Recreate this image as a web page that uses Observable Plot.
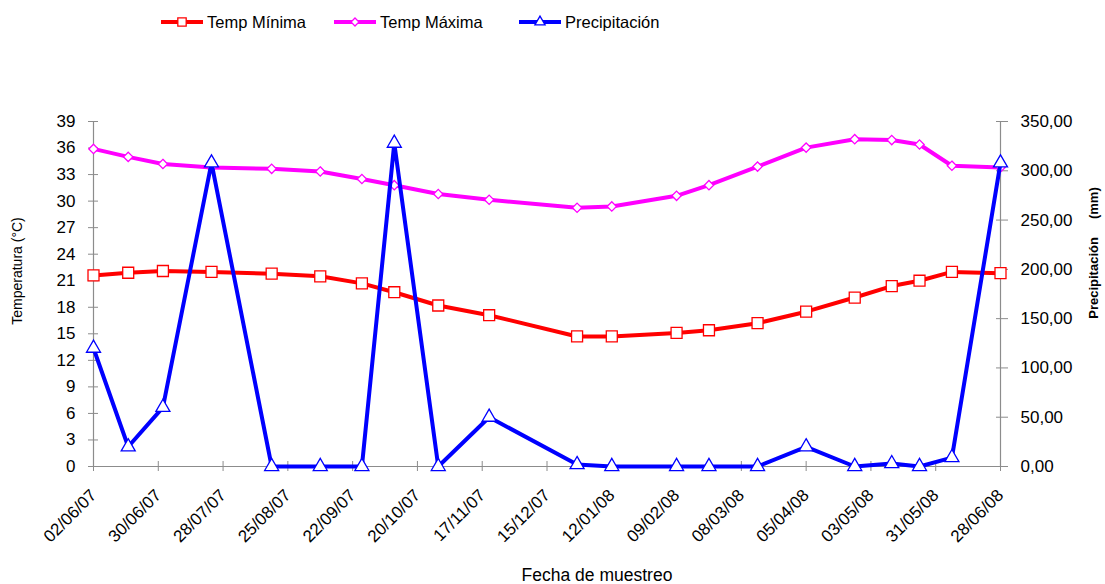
<!DOCTYPE html>
<html>
<head>
<meta charset="utf-8">
<script src="https://cdn.jsdelivr.net/npm/d3@7"></script>
<script src="https://cdn.jsdelivr.net/npm/@observablehq/plot@0.6"></script>
<style>
  body { margin: 0; background: white; font-family: "Liberation Sans", Arial, sans-serif; }
  #legend { position: relative; width: 1105px; height: 45px; }
  .item { position: absolute; top: 12px; display: flex; align-items: center; font-size: 16.5px; color: black; }
  .item svg { margin-right: 2px; }
</style>
</head>
<body>
<div id="legend"></div>
<div id="chart"></div>
<script>
// Sampling dates (dd/mm/yy)
const fechas = ["02/06/07","17/06/07","02/07/07","23/07/07","18/08/07","08/09/07","26/09/07","10/10/07","29/10/07","20/11/07","28/12/07","12/01/08","09/02/08","23/02/08","15/03/08","05/04/08","26/04/08","12/05/08","24/05/08","07/06/08","28/06/08"];
// Minimum temperature (°C)
const tempMinima = [21.6,21.9,22.1,22.0,21.8,21.5,20.7,19.7,18.2,17.1,14.7,14.7,15.1,15.4,16.2,17.5,19.1,20.4,21.0,22.0,21.85];
// Maximum temperature (°C)
const tempMaxima = [35.9,35.0,34.2,33.8,33.65,33.35,32.5,31.8,30.8,30.15,29.25,29.4,30.6,31.8,33.9,36.05,37.0,36.9,36.4,34.0,33.8];
// Precipitation (mm)
const precipitacion = [120,20,60,308,0,0,0,328,0,50,2,0,0,0,0,20,0,3,0,9,308];

// Axis tick labels
const xTickLabels = ["02/06/07","30/06/07","28/07/07","25/08/07","22/09/07","20/10/07","17/11/07","15/12/07","12/01/08","09/02/08","08/03/08","05/04/08","03/05/08","31/05/08","28/06/08"];
const tempTicks = [0,3,6,9,12,15,18,21,24,27,30,33,36,39];
const precipTicks = [0,50,100,150,200,250,300,350];

const parse = d3.utcParse("%d/%m/%y");
const fmtDate = d3.utcFormat("%d/%m/%y");
const k = 39 / 350; // precipitation -> temperature axis units
const fmtMM = v => v.toFixed(2).replace(".", ",");

const data = fechas.map((f, i) => ({
  date: parse(f),
  tmin: tempMinima[i],
  tmax: tempMaxima[i],
  prec: precipitacion[i] * k
}));
const xTicks = xTickLabels.map(parse);
const x0 = xTicks[0], x1 = xTicks[xTicks.length - 1];

// Legend
const legendItems = [
  {label: "Temp Mínima", color: "#FF0000", symbol: d3.symbolSquare, size: 70, left: 159},
  {label: "Temp Máxima", color: "#FF00FF", symbol: d3.symbolDiamond2, size: 40, left: 332},
  {label: "Precipitación", color: "#0000FF", symbol: d3.symbolTriangle, size: 45, left: 517}
];
const legend = document.getElementById("legend");
for (const it of legendItems) {
  const div = document.createElement("div");
  div.className = "item";
  div.style.left = it.left + "px";
  const path = d3.symbol(it.symbol, it.size)();
  div.innerHTML = `<svg width="46" height="20"><line x1="2" x2="44" y1="10" y2="10" stroke="${it.color}" stroke-width="4"/><path d="${path}" transform="translate(23,10)" fill="white" stroke="${it.color}" stroke-width="1.3"/></svg><span>${it.label}</span>`;
  legend.appendChild(div);
}

const gray = "#8c8c8c";
const chart = Plot.plot({
  width: 1105,
  height: 539,
  marginTop: 76,
  marginBottom: 118,
  marginLeft: 93,
  marginRight: 105,
  style: {fontFamily: "'Liberation Sans', Arial, sans-serif", fontSize: "17px", color: "black", background: "white", overflow: "visible"},
  x: {type: "utc", domain: [x0, x1]},
  y: {domain: [0, 39]},
  marks: [
    // axis lines
    Plot.ruleY([0], {stroke: gray, strokeWidth: 1.2}),
    Plot.ruleX([x0, x1], {y1: 0, y2: 39, stroke: gray, strokeWidth: 1.2}),
    // inward tick halves
    Plot.ruleX(xTicks, {x: d => d, y1: 0, y2: 0, insetTop: -5, stroke: gray}),
    Plot.ruleY(tempTicks, {y: d => d, x1: x0, x2: x0, insetRight: -5, stroke: gray}),
    Plot.ruleY(precipTicks.map(v => v * k), {y: d => d, x1: x1, x2: x1, insetLeft: -4, stroke: gray}),
    // axes
    Plot.axisY({ticks: tempTicks, tickSize: 5, tickPadding: 13, stroke: gray, fill: "black", label: null, fontSize: 17}),
    Plot.axisY({anchor: "right", ticks: precipTicks.map(v => v * k), tickFormat: d => fmtMM(d / k), tickSize: 7, tickPadding: 13, stroke: gray, fill: "black", label: null, fontSize: 17}),
    Plot.axisX({ticks: xTicks, tickFormat: fmtDate, tickRotate: -45, tickSize: 5, tickPadding: 21, stroke: gray, fill: "black", label: null, fontSize: 17}),
    // axis titles
    Plot.text(["Temperatura (°C)"], {frameAnchor: "left", textAnchor: "middle", rotate: -90, dx: -76, dy: -23, fontSize: 14, fill: "black"}),
    Plot.text(["Precipitación\u00a0\u00a0\u00a0\u00a0\u00a0(mm)"], {frameAnchor: "right", textAnchor: "middle", rotate: -90, dx: 93, dy: -41, fontSize: 13, fontWeight: "bold", fill: "black"}),
    Plot.text(["Fecha de muestreo"], {frameAnchor: "bottom", textAnchor: "middle", dy: 114, dx: 50, fontSize: 17.5, fill: "black"}),
    // series
    Plot.line(data, {x: "date", y: "tmin", stroke: "#FF0000", strokeWidth: 4}),
    Plot.dot(data, {x: "date", y: "tmin", symbol: "square", r: 6.2, stroke: "#FF0000", fill: "white", strokeWidth: 1.3}),
    Plot.line(data, {x: "date", y: "tmax", stroke: "#FF00FF", strokeWidth: 4}),
    Plot.dot(data, {x: "date", y: "tmax", symbol: "diamond2", r: 4.2, stroke: "#FF00FF", fill: "white", strokeWidth: 1.3}),
    Plot.line(data, {x: "date", y: "prec", stroke: "#0000FF", strokeWidth: 4}),
    Plot.dot(data, {x: "date", y: "prec", symbol: "triangle", r: 5.2, stroke: "#0000FF", fill: "white", strokeWidth: 1.3})
  ]
});
document.getElementById("chart").appendChild(chart);
</script>
</body>
</html>
